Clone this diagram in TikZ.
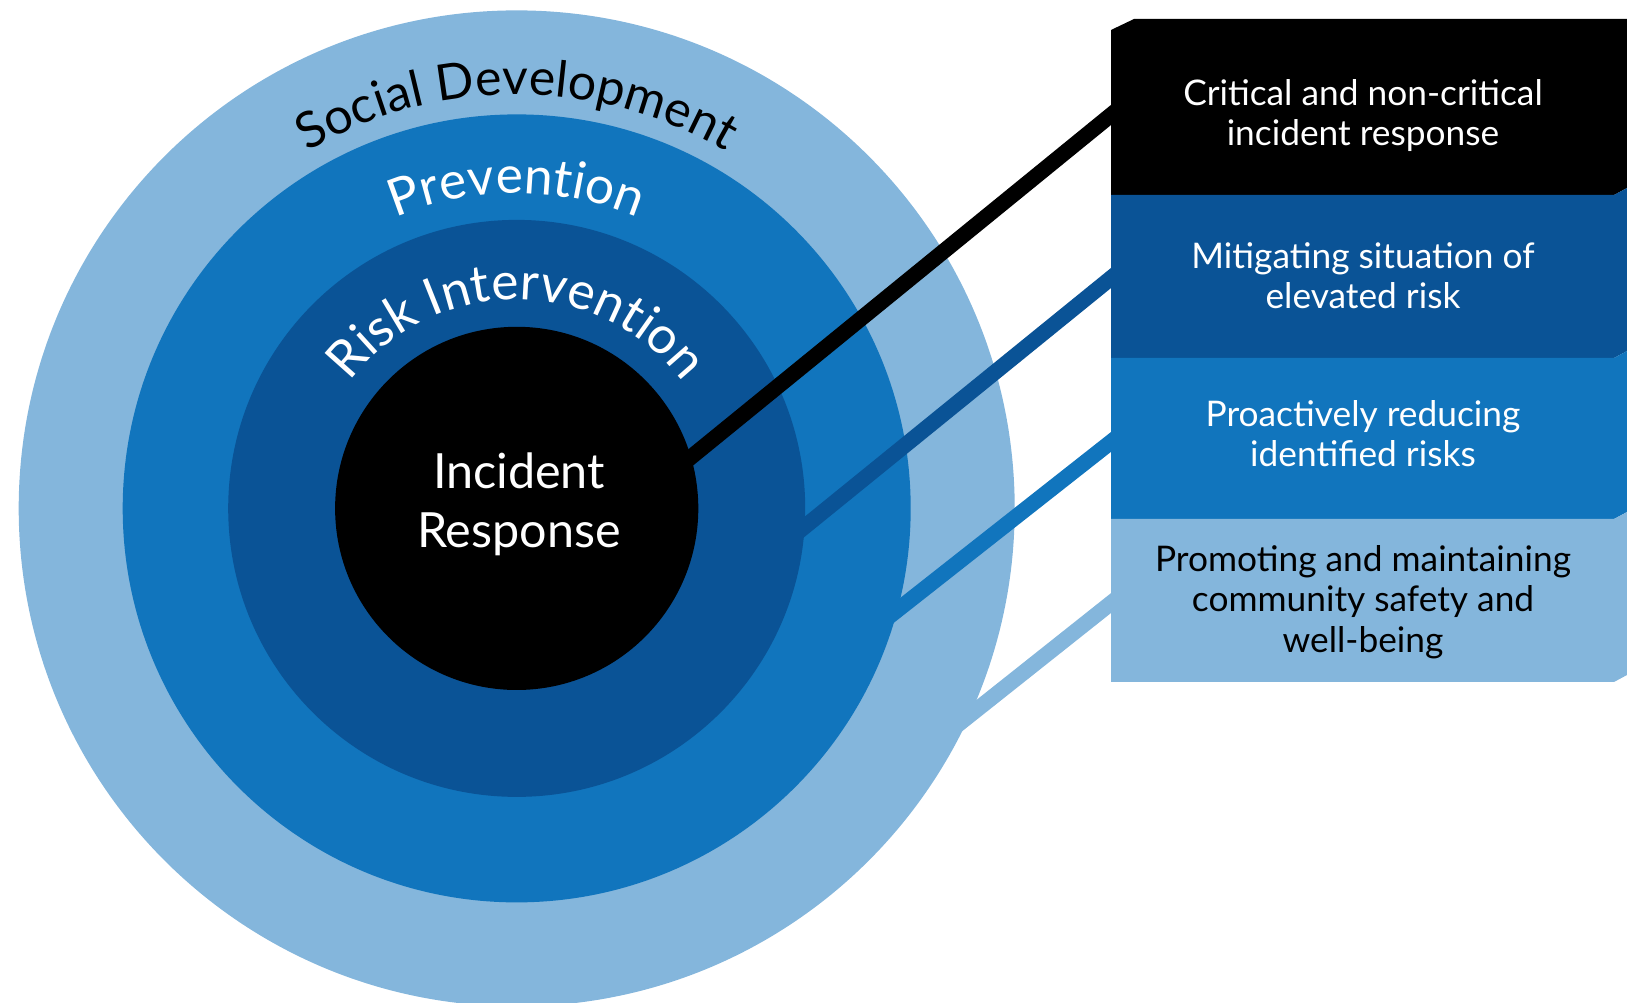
\documentclass[tikz,border=0pt]{standalone}
\usepackage{fontspec}
\setmainfont{Lato}
\usetikzlibrary{decorations.text,calc}
\definecolor{lightb}{HTML}{84B6DC}
\definecolor{midb}{HTML}{1175BD}
\definecolor{darkb}{HTML}{0A5396}
\newcommand\curvefont{\fontsize{50}{50}\selectfont}
\newcommand\curvefontb{\fontsize{51.5}{50}\selectfont}
\begin{document}
\begin{tikzpicture}[x=1pt,y=1pt,
  band/.style={line width=15.6pt},
  boxtext/.style={align=center, font=\fontsize{35.3}{40.5}\selectfont, inner sep=0pt},
  arctext/.style={decorate, decoration={text along path, text align=center, text color=#1}}]
\useasboundingbox (0,0) rectangle (1627,1003);
\coordinate (C) at (516.7,494.6);
% rings and bands
\fill[lightb] (C) circle[radius=498];
\coordinate (s4) at (930,256.2); \coordinate (e4) at (1130,415);
\draw[band,lightb] (s4) -- (e4);
\fill[midb] (C) circle[radius=394];
\coordinate (s3) at (860,363.5); \coordinate (e3) at (1130,576);
\draw[band,midb] (s3) -- (e3);
\fill[darkb] (C) circle[radius=288.5];
\coordinate (s2) at (760,440); \coordinate (e2) at (1130,740.4);
\draw[band,darkb] (s2) -- (e2);
\fill[black] (C) circle[radius=181.6];
\coordinate (s1) at (640,504.3); \coordinate (e1) at (1130,903.5);
\draw[band,black] (s1) -- (e1);
% boxes
\fill[black] (1111,973) -- (1134,984) -- (1627,984) -- (1627,815) -- (1614,808) -- (1111,808) -- cycle;
\fill[darkb] (1111,808) -- (1614,808) -- (1627,815) -- (1627,652) -- (1614,645) -- (1111,645) -- cycle;
\fill[midb] (1111,645) -- (1614,645) -- (1627,652) -- (1627,491) -- (1614,484) -- (1111,484) -- cycle;
\fill[lightb] (1111,484) -- (1614,484) -- (1627,491) -- (1627,328) -- (1614,321) -- (1111,321) -- cycle;
\node[boxtext, text=white] (t1) at (1363,887.5) {Critical and non-critical\\incident response};
\node[boxtext, text=white] (t2) at (1363,727.5) {Mitigating situation of\\elevated risk};
\node[boxtext, text=white] (t3) at (1363,569.5) {Proactively reducing\\identified risks};
\node[boxtext, text=black] (t4) at (1363,401) {Promoting and maintaining\\community safety and\\well-being};
% centre
\node[align=center, text=white, font=\fontsize{48.5}{59}\selectfont, inner sep=0pt] (ir) at (519,499) {Incident\\Response};
% curved labels
\path[arctext=black, decoration={text={|\curvefont|Social Development}}] ($(C)+(170:414)$) arc[start angle=170, end angle=10, radius=414];
\path[arctext=white, decoration={text={|\curvefontb|Prevention}}] ($(C)+(170:315)$) arc[start angle=170, end angle=10, radius=315];
\path[arctext=white, decoration={text={|\curvefontb|Risk Intervention}}] ($(C)+(170:209)$) arc[start angle=170, end angle=10, radius=209];
\end{tikzpicture}
\end{document}
